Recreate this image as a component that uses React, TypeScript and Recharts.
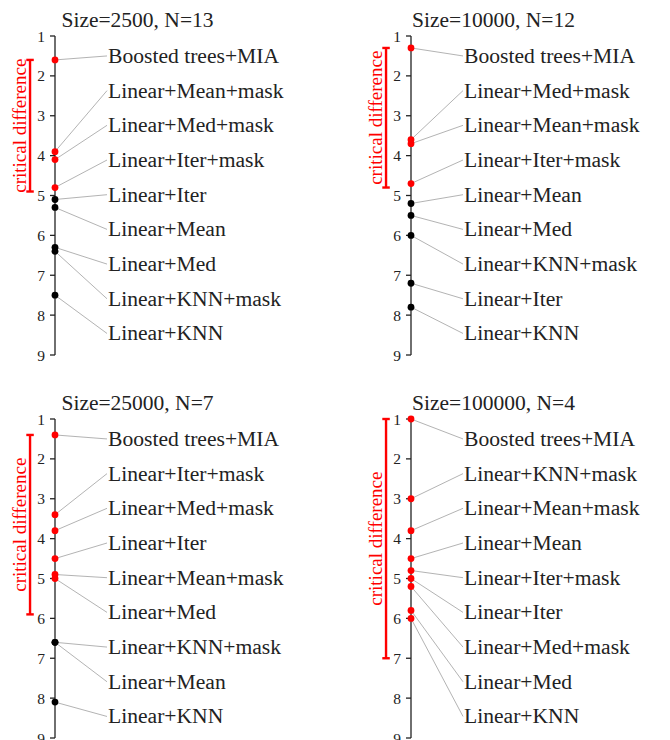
import { ScatterChart, Scatter, XAxis, YAxis, ReferenceLine } from 'recharts';

// average ranks (lower is better), listed in the order the labels are stacked
const RANK_TICKS = [1, 2, 3, 4, 5, 6, 7, 8, 9];

const methods2500 = [
  'Boosted trees+MIA',
  'Linear+Mean+mask',
  'Linear+Med+mask',
  'Linear+Iter+mask',
  'Linear+Iter',
  'Linear+Mean',
  'Linear+Med',
  'Linear+KNN+mask',
  'Linear+KNN',
];
const ranks2500 = [1.6, 3.9, 4.1, 4.8, 5.1, 5.3, 6.3, 6.4, 7.5];
const cd2500 = 3.3;

const methods10000 = [
  'Boosted trees+MIA',
  'Linear+Med+mask',
  'Linear+Mean+mask',
  'Linear+Iter+mask',
  'Linear+Mean',
  'Linear+Med',
  'Linear+KNN+mask',
  'Linear+Iter',
  'Linear+KNN',
];
const ranks10000 = [1.3, 3.6, 3.7, 4.7, 5.2, 5.5, 6.0, 7.2, 7.8];
const cd10000 = 3.5;

const methods25000 = [
  'Boosted trees+MIA',
  'Linear+Iter+mask',
  'Linear+Med+mask',
  'Linear+Iter',
  'Linear+Mean+mask',
  'Linear+Med',
  'Linear+KNN+mask',
  'Linear+Mean',
  'Linear+KNN',
];
const ranks25000 = [1.4, 3.4, 3.8, 4.5, 4.9, 5.0, 6.6, 6.6, 8.1];
const cd25000 = 4.5;

const methods100000 = [
  'Boosted trees+MIA',
  'Linear+KNN+mask',
  'Linear+Mean+mask',
  'Linear+Mean',
  'Linear+Iter+mask',
  'Linear+Iter',
  'Linear+Med+mask',
  'Linear+Med',
  'Linear+KNN',
];
const ranks100000 = [1.0, 3.0, 3.8, 4.5, 4.8, 5.0, 5.2, 5.8, 6.0];
const cd100000 = 6.0;

const FONT = '"Liberation Serif", "Times New Roman", serif';
const INK = '#222';
const RED = '#ff0000';

const AXIS_W = 55;
const LABEL_GAP = 52;
const CHART_H = 372;
const CD_X = -0.48;
const CAP = 0.072;

function renderPoint(props: any) {
  const { cx, cy, payload } = props;
  if (payload.kind === 'dot') {
    return <circle cx={cx} cy={cy} r={3.4} fill={payload.color} />;
  }
  return (
    <text x={cx + 1} y={cy} dy={7} fontSize={21.6} fontFamily={FONT} fill={INK}>
      {payload.name}
    </text>
  );
}

function renderCdLabel(props: any) {
  const { x, y, height } = props.viewBox;
  const lx = x - 4;
  const ly = y + height / 2;
  return (
    <text
      x={lx}
      y={ly}
      transform={`rotate(-90 ${lx} ${ly})`}
      textAnchor="middle"
      fontSize={19}
      fontFamily={FONT}
      fill={RED}
    >
      critical difference
    </text>
  );
}

function RankPanel({
  title,
  methods,
  ranks,
  cd,
  left,
  top,
  width,
}: {
  title: string;
  methods: string[];
  ranks: number[];
  cd: number;
  left: number;
  top: number;
  width: number;
}) {
  const best = Math.min(...ranks);
  const series = methods.map((name, i) => [
    { x: 0, y: ranks[i], kind: 'dot', color: ranks[i] <= best + cd + 1e-9 ? RED : '#000' },
    { x: 1, y: 1.5 + i * 0.87, kind: 'label', name },
  ]);
  const cdLine = { stroke: RED, strokeWidth: 2.4 };

  return (
    <div style={{ position: 'absolute', left, top, width, height: CHART_H }}>
      <ScatterChart
        width={width}
        height={CHART_H}
        margin={{ top: 36, right: width - AXIS_W - LABEL_GAP, bottom: 17, left: 0 }}
      >
        <XAxis type="number" dataKey="x" domain={[0, 1]} hide />
        <YAxis
          type="number"
          dataKey="y"
          domain={[1, 9]}
          ticks={RANK_TICKS}
          interval={0}
          reversed
          width={AXIS_W}
          tickSize={5}
          tickMargin={5}
          axisLine={{ stroke: INK, strokeWidth: 1.3 }}
          tickLine={{ stroke: INK, strokeWidth: 1.3 }}
          tick={{ fontSize: 15.5, fill: INK, fontFamily: FONT }}
        />
        <ReferenceLine
          segment={[{ x: CD_X, y: best }, { x: CD_X, y: best + cd }]}
          ifOverflow="visible"
          {...cdLine}
          label={renderCdLabel}
        />
        <ReferenceLine
          segment={[{ x: CD_X - CAP, y: best }, { x: CD_X + CAP, y: best }]}
          ifOverflow="visible"
          {...cdLine}
        />
        <ReferenceLine
          segment={[{ x: CD_X - CAP, y: best + cd }, { x: CD_X + CAP, y: best + cd }]}
          ifOverflow="visible"
          {...cdLine}
        />
        {series.map((pts, i) => (
          <Scatter
            key={methods[i]}
            data={pts}
            line={{ stroke: '#a0a0a0', strokeWidth: 0.8 }}
            shape={renderPoint}
            isAnimationActive={false}
          />
        ))}
      </ScatterChart>
      <svg
        width={width}
        height={40}
        style={{ position: 'absolute', left: 0, top: 0, pointerEvents: 'none' }}
      >
        <text x={AXIS_W + 82.5} y={27.3} textAnchor="middle" fontSize={21.5} fontFamily={FONT} fill={INK}>
          {title}
        </text>
      </svg>
    </div>
  );
}

export default function App() {
  return (
    <div
      style={{
        position: 'absolute',
        left: 0,
        top: 0,
        width: 670,
        height: 740,
        overflow: 'hidden',
        background: '#fff',
      }}
    >
      <RankPanel title="Size=2500, N=13" methods={methods2500} ranks={ranks2500} cd={cd2500} left={0} top={0} width={340} />
      <RankPanel title="Size=10000, N=12" methods={methods10000} ranks={ranks10000} cd={cd10000} left={356} top={0} width={314} />
      <RankPanel title="Size=25000, N=7" methods={methods25000} ranks={ranks25000} cd={cd25000} left={0} top={383} width={340} />
      <RankPanel title="Size=100000, N=4" methods={methods100000} ranks={ranks100000} cd={cd100000} left={356} top={383} width={314} />
    </div>
  );
}
